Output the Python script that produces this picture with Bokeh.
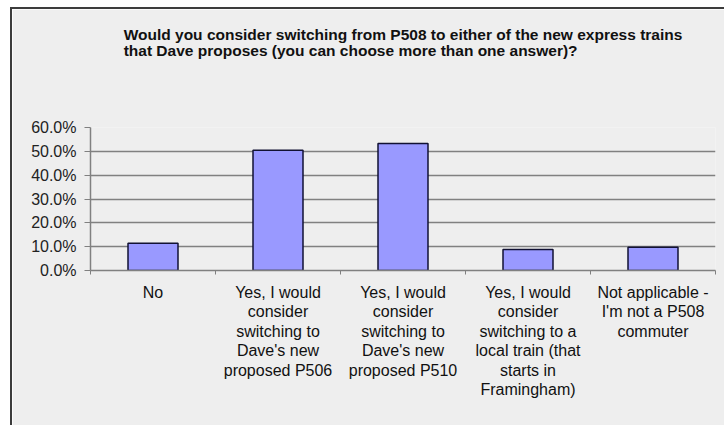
from bokeh.plotting import figure
from bokeh.models import Range1d, FixedTicker, NumeralTickFormatter, ColumnDataSource, Title
from bokeh.embed import file_html
from bokeh.resources import INLINE

title_text = ("Would you consider switching from P508 to either of the new express trains\n"
              "that Dave proposes (you can choose more than one answer)?")
categories = [
    "No",
    "Yes, I would\nconsider\nswitching to\nDave's new\nproposed P506",
    "Yes, I would\nconsider\nswitching to\nDave's new\nproposed P510",
    "Yes, I would\nconsider\nswitching to a\nlocal train (that\nstarts in\nFramingham)",
    "Not applicable -\nI'm not a P508\ncommuter",
]
values = [0.114, 0.505, 0.533, 0.088, 0.098]
y_ticks = [0.0, 0.1, 0.2, 0.3, 0.4, 0.5, 0.6]

FONT = "Liberation Sans"
BG = "#eeeeee"

p = figure(width=714, height=418, output_backend="svg", toolbar_location=None,
           x_range=Range1d(0, len(categories)), y_range=Range1d(0, 0.6),
           min_border_left=78, min_border_right=11, min_border_top=118, min_border_bottom=157,
           background_fill_color=BG, border_fill_color=BG,
           margin=(7, 0, 0, 10),
           styles={"border-top": "2px solid #3c3c3c", "border-left": "2px solid #3c3c3c"})
p.outline_line_color = None

# blank spacer between the frame and the title (keeps the title near the top)
spacer = Title(text=" ", text_font_size="1px", standoff=65)
p.add_layout(spacer, "above")

t = Title(text=title_text, align="center",
          text_font=FONT, text_font_style="bold",
          text_font_size="15.5px", text_color="#111111", standoff=0,
          text_line_height=0.95)
p.add_layout(t, "above")

idx = list(range(len(categories)))
src = ColumnDataSource(dict(x=[i + 0.5 for i in idx], top=values))
p.vbar(x="x", top="top", width=0.4, bottom=0, source=src,
       fill_color="#9999ff", line_color="#111133", line_width=1.5)

# y axis
p.yaxis.ticker = FixedTicker(ticks=y_ticks)
p.yaxis.formatter = NumeralTickFormatter(format="0.0%")
p.yaxis.major_label_text_font = FONT
p.yaxis.major_label_text_font_size = "16px"
p.yaxis.major_label_text_color = "#222222"
p.yaxis.axis_line_color = "#808080"
p.yaxis.axis_line_width = 1.5
p.yaxis.major_tick_line_color = "#808080"
p.yaxis.major_tick_out = 6
p.yaxis.major_tick_in = 0
p.yaxis.minor_tick_line_color = None
p.yaxis.major_label_standoff = 8

# x axis
p.xaxis.ticker = FixedTicker(ticks=[i + 0.5 for i in idx], minor_ticks=list(range(len(categories) + 1)))
p.xaxis.major_label_overrides = {i + 0.5: c for i, c in zip(idx, categories)}
p.xaxis.major_label_text_font = FONT
p.xaxis.major_label_text_font_size = "16px"
p.xaxis.major_label_text_color = "#111111"
p.xaxis.major_label_text_line_height = 1.15
p.xaxis.axis_line_color = "#808080"
p.xaxis.axis_line_width = 1.5
p.xaxis.major_tick_line_color = None
p.xaxis.major_tick_out = 0
p.xaxis.major_tick_in = 0
p.xaxis.minor_tick_line_color = "#808080"
p.xaxis.minor_tick_out = 4
p.xaxis.minor_tick_in = 0
p.xaxis.major_label_standoff = 9

p.xgrid.grid_line_color = None
p.ygrid.ticker = FixedTicker(ticks=y_ticks)
p.ygrid.grid_line_color = "#808080"
p.ygrid.grid_line_width = 1.5

open("out.html", "w").write(file_html(p, INLINE))
